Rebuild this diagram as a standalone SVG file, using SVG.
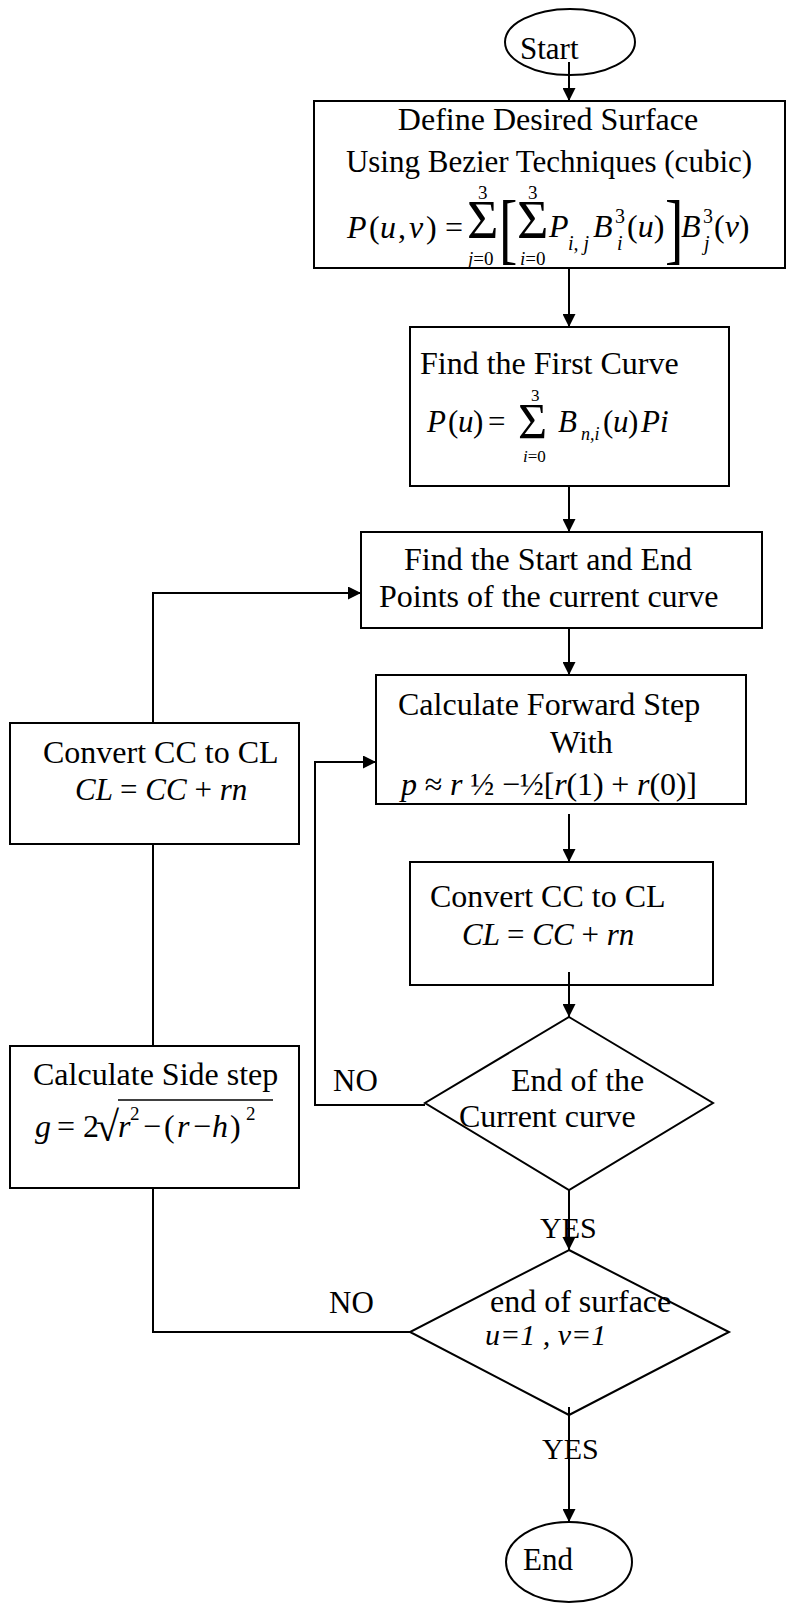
<svg xmlns="http://www.w3.org/2000/svg" width="787" height="1603" viewBox="0 0 787 1603">
<defs>
<style>
.s{fill:none;stroke:#000;stroke-width:2}
.t{font-family:"Liberation Serif","Times New Roman",serif;font-size:32px;fill:#000}
.i{font-style:italic}
.sm{font-size:19px}
.sig{font-size:54px}
</style>
<marker id="ah" viewBox="0 0 10 10" refX="10" refY="5" markerWidth="15" markerHeight="13" markerUnits="userSpaceOnUse" orient="auto">
<path d="M0,0 L10,5 L0,10 z" fill="#000"/>
</marker>
</defs>
<rect width="787" height="1603" fill="#fff"/>

<g id="start">
<ellipse class="s" cx="570" cy="42" rx="65" ry="33"/>
<text class="t" x="520" y="59" style="font-size:31px">Start</text>
</g>

<g id="define-surface">
<rect class="s" x="314" y="101" width="471" height="167"/>
<text class="t" x="548" y="130" text-anchor="middle">Define Desired Surface</text>
<text class="t" x="549" y="172" text-anchor="middle" style="font-size:31px">Using Bezier Techniques (cubic)</text>
<text class="t" y="238"><tspan class="i" x="347">P</tspan><tspan x="369">(</tspan><tspan class="i" x="380">u</tspan><tspan x="398">,</tspan><tspan class="i" x="409">v</tspan><tspan x="426">)</tspan><tspan x="445">=</tspan></text>
<text class="t sig" x="467" y="238">Σ</text>
<text class="t sm" x="478" y="199">3</text>
<text class="t sm" x="468" y="265"><tspan class="i">j</tspan>=0</text>
<text class="t" transform="translate(499,255) scale(0.7,1)" style="font-size:79px">[</text>
<text class="t sig" x="517" y="238">Σ</text>
<text class="t sm" x="528" y="199">3</text>
<text class="t sm" x="520" y="265"><tspan class="i">i</tspan>=0</text>
<text class="t i" x="549" y="237">P</text>
<text class="t i" x="568" y="250" style="font-size:20px">i, j</text>
<text class="t i" x="593" y="237">B</text>
<text class="t" x="615" y="223" style="font-size:20px">3</text>
<text class="t i" x="617" y="250" style="font-size:20px">i</text>
<text class="t" y="237"><tspan x="627">(</tspan><tspan class="i">u</tspan><tspan>)</tspan></text>
<text class="t" transform="translate(665,255) scale(0.7,1)" style="font-size:79px">]</text>
<text class="t i" x="681" y="237">B</text>
<text class="t" x="703" y="223" style="font-size:20px">3</text>
<text class="t i" x="704" y="250" style="font-size:20px">j</text>
<text class="t" y="237"><tspan x="714">(</tspan><tspan class="i">v</tspan><tspan>)</tspan></text>
</g>

<g id="first-curve">
<rect class="s" x="410" y="327" width="319" height="159"/>
<text class="t" x="420" y="374">Find the First Curve</text>
<text class="t" y="432" style="font-size:31px"><tspan class="i" x="427">P</tspan><tspan x="448">(</tspan><tspan class="i" x="458">u</tspan><tspan x="473">)</tspan><tspan x="488">=</tspan></text>
<text class="t" x="518" y="438" style="font-size:50px">Σ</text>
<text class="t" x="531" y="401" style="font-size:17px">3</text>
<text class="t" x="523" y="462" style="font-size:17px"><tspan class="i">i</tspan>=0</text>
<text class="t i" x="558" y="432" style="font-size:31px">B</text>
<text class="t i" x="581" y="440" style="font-size:18px">n,i</text>
<text class="t" y="432" style="font-size:31px"><tspan x="603">(</tspan><tspan class="i" x="613">u</tspan><tspan x="628">)</tspan><tspan class="i" x="641">Pi</tspan></text>
</g>

<g id="start-end-points">
<rect class="s" x="361" y="532" width="401" height="96"/>
<text class="t" x="404" y="570">Find the Start and End</text>
<text class="t" x="379" y="607">Points of the current curve</text>
</g>

<g id="forward-step">
<rect class="s" x="376" y="675" width="370" height="129"/>
<text class="t" x="398" y="715">Calculate Forward Step</text>
<text class="t" x="550" y="753">With</text>
<text class="t" x="401" y="795" textLength="296" lengthAdjust="spacing"><tspan class="i">p</tspan> ≈ <tspan class="i">r</tspan> ½ −½[<tspan class="i">r</tspan>(1) + <tspan class="i">r</tspan>(0)]</text>
</g>

<g id="convert-left">
<rect class="s" x="10" y="723" width="289" height="121"/>
<text class="t" x="43" y="763">Convert CC to CL</text>
<text class="t i" x="75" y="800" style="font-size:31px">CL <tspan font-style="normal">=</tspan> CC <tspan font-style="normal">+</tspan> rn</text>
</g>

<g id="convert-right">
<rect class="s" x="410" y="862" width="303" height="123"/>
<text class="t" x="430" y="907">Convert CC to CL</text>
<text class="t i" x="462" y="945" style="font-size:31px">CL <tspan font-style="normal">=</tspan> CC <tspan font-style="normal">+</tspan> rn</text>
</g>

<g id="side-step">
<rect class="s" x="10" y="1046" width="289" height="142"/>
<text class="t" x="33" y="1085">Calculate Side step</text>
<text class="t" y="1137" style="font-size:32px"><tspan class="i" x="35">g</tspan><tspan x="57">=</tspan><tspan x="83">2</tspan></text>
<text class="t" x="96" y="1141" style="font-size:42px">√</text>
<line x1="118" y1="1100" x2="273" y2="1100" stroke="#000" stroke-width="1.5"/>
<text class="t" y="1137" style="font-size:32px"><tspan class="i" x="118">r</tspan><tspan x="143">−</tspan><tspan x="164">(</tspan><tspan class="i" x="177">r</tspan><tspan x="193">−</tspan><tspan class="i" x="212">h</tspan><tspan x="230">)</tspan></text>
<text class="t" x="130" y="1120" style="font-size:19px">2</text>
<text class="t" x="246" y="1120" style="font-size:19px">2</text>
</g>

<g id="end-of-curve">
<polygon class="s" points="569,1017 713,1103 569,1190 425,1103"/>
<text class="t" x="511" y="1091">End of the</text>
<text class="t" x="459" y="1127">Current curve</text>
</g>

<g id="end-of-surface">
<polygon class="s" points="569,1250 729,1332 569,1415 410,1332"/>
<text class="t" x="490" y="1312">end of surface</text>
<text class="t i" x="485" y="1345" style="font-size:30px">u=1 , v=1</text>
</g>

<g id="end">
<ellipse class="s" cx="569" cy="1562" rx="63" ry="40"/>
<text class="t" x="523" y="1570" style="font-size:31px">End</text>
</g>

<g id="connectors" class="s">
<line x1="569" y1="62" x2="569" y2="101" marker-end="url(#ah)"/>
<line x1="569" y1="268" x2="569" y2="327" marker-end="url(#ah)"/>
<line x1="569" y1="486" x2="569" y2="532" marker-end="url(#ah)"/>
<line x1="569" y1="628" x2="569" y2="675" marker-end="url(#ah)"/>
<line x1="569" y1="814" x2="569" y2="862" marker-end="url(#ah)"/>
<line x1="569" y1="972" x2="569" y2="1017" marker-end="url(#ah)"/>
<line x1="569" y1="1190" x2="569" y2="1250" marker-end="url(#ah)"/>
<line x1="569" y1="1407" x2="569" y2="1522" marker-end="url(#ah)"/>
<polyline points="425,1105 315,1105 315,762 376,762" marker-end="url(#ah)"/>
<polyline points="410,1332 153,1332 153,1188"/>
<line x1="153" y1="1046" x2="153" y2="844"/>
<polyline points="153,723 153,593 361,593" marker-end="url(#ah)"/>
</g>

<g id="labels">
<text class="t" x="333" y="1091" style="font-size:31px">NO</text>
<text class="t" x="540" y="1238" style="font-size:30px">YES</text>
<text class="t" x="329" y="1313" style="font-size:31px">NO</text>
<text class="t" x="542" y="1459" style="font-size:30px">YES</text>
</g>
</svg>
